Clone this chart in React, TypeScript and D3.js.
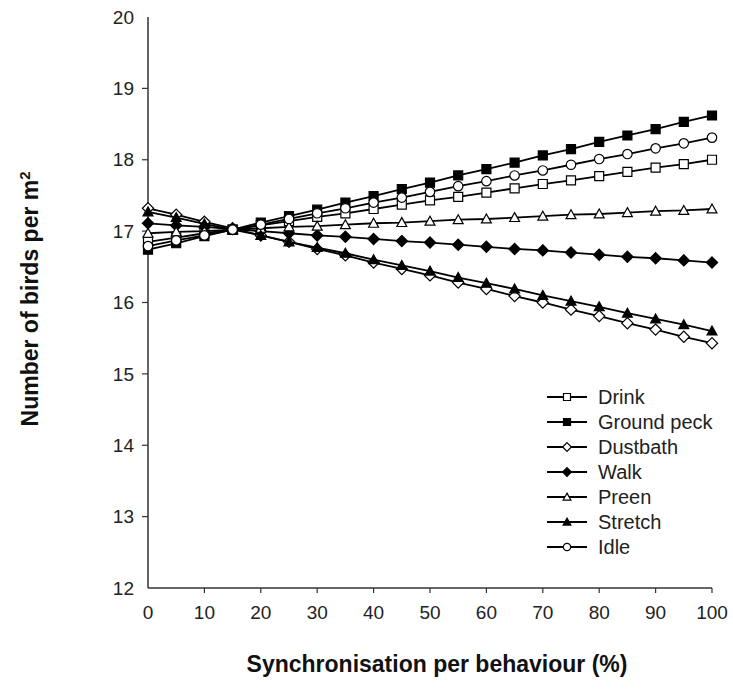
import React from "react";
import * as d3 from "d3";

// synchronisation levels (%)
const sync = [0, 5, 10, 15, 20, 25, 30, 35, 40, 45, 50, 55, 60, 65, 70, 75, 80, 85, 90, 95, 100];

const drink = [16.85, 16.91, 16.97, 17.02, 17.08, 17.14, 17.2, 17.25, 17.31, 17.37, 17.43, 17.48, 17.54, 17.6, 17.66, 17.71, 17.77, 17.83, 17.89, 17.94, 18.0];
const groundPeck = [16.74, 16.83, 16.93, 17.02, 17.12, 17.21, 17.3, 17.4, 17.49, 17.59, 17.68, 17.78, 17.87, 17.96, 18.06, 18.15, 18.25, 18.34, 18.43, 18.53, 18.62];
const dustbath = [17.32, 17.23, 17.13, 17.04, 16.94, 16.85, 16.75, 16.66, 16.56, 16.47, 16.38, 16.28, 16.19, 16.09, 16.0, 15.9, 15.81, 15.71, 15.62, 15.52, 15.43];
const walk = [17.11, 17.08, 17.06, 17.03, 17.0, 16.97, 16.94, 16.92, 16.89, 16.86, 16.84, 16.81, 16.78, 16.75, 16.73, 16.7, 16.67, 16.64, 16.62, 16.59, 16.56];
const preen = [16.97, 16.99, 17.0, 17.02, 17.04, 17.06, 17.07, 17.09, 17.11, 17.12, 17.14, 17.16, 17.17, 17.19, 17.21, 17.23, 17.24, 17.26, 17.28, 17.29, 17.31];
const stretch = [17.27, 17.19, 17.1, 17.02, 16.94, 16.85, 16.77, 16.69, 16.6, 16.52, 16.44, 16.35, 16.27, 16.19, 16.1, 16.02, 15.94, 15.85, 15.77, 15.69, 15.6];
const idle = [16.79, 16.87, 16.94, 17.02, 17.09, 17.17, 17.25, 17.32, 17.4, 17.47, 17.55, 17.63, 17.7, 17.78, 17.85, 17.93, 18.01, 18.08, 18.16, 18.23, 18.31];

const seriesNames = ["Drink", "Ground peck", "Dustbath", "Walk", "Preen", "Stretch", "Idle"];
const seriesValues = [drink, groundPeck, dustbath, walk, preen, stretch, idle];
// marker shape + filled?
const markerShapes = ["square", "square", "diamond", "diamond", "triangle", "triangle", "circle"];
const markerFilled = [false, true, false, true, false, true, false];

const xTicks = [0, 10, 20, 30, 40, 50, 60, 70, 80, 90, 100];
const yTicks = [12, 13, 14, 15, 16, 17, 18, 19, 20];

const W = 733;
const H = 690;
const margin = { left: 148, right: 21, top: 17, bottom: 102 };

// r = half width of the marker
const markerPath = (shape, r) => {
  if (shape === "square") return `M${-r},${-r}H${r}V${r}H${-r}Z`;
  if (shape === "diamond") {
    const d = r * 1.25;
    return `M0,${-d}L${d},0L0,${d}L${-d},0Z`;
  }
  if (shape === "triangle") {
    const h = r * 1.1;
    return `M0,${-h}L${r * 1.1},${h * 0.8}H${-r * 1.1}Z`;
  }
  return d3.symbol().type(d3.symbolCircle).size(Math.PI * r * r * 1.1)();
};

const Marker = ({ shape, filled, x, y, r }) => (
  <path
    d={markerPath(shape, r)}
    transform={`translate(${x},${y})`}
    fill={filled ? "#000" : "#fff"}
    stroke="#000"
    strokeWidth={1.2}
  />
);

export default function App() {
  const x = d3.scaleLinear().domain([0, 100]).range([margin.left, W - margin.right]);
  const y = d3.scaleLinear().domain([12, 20]).range([H - margin.bottom, margin.top]);

  const line = d3
    .line<number>()
    .x((_, i) => x(sync[i]))
    .y((d) => y(d));

  const font = "'Liberation Sans', Arial, sans-serif";
  const axisColor = "#333";
  const legendX = 547;
  const legendY = 397;
  const legendStep = 25;

  return (
    <svg
      width={W}
      height={H}
      style={{ position: "absolute", left: 0, top: 0, background: "#fff" }}
      fontFamily={font}
    >
      {/* axes */}
      <line x1={x(0)} x2={x(0)} y1={y(20)} y2={y(12)} stroke={axisColor} strokeWidth={1.5} />
      <line x1={x(0)} x2={x(100)} y1={y(12)} y2={y(12)} stroke={axisColor} strokeWidth={1.5} />
      {yTicks.map((t) => (
        <g key={"y" + t}>
          {t > 12 && t < 20 && (
            <line x1={x(0) - 6} x2={x(0)} y1={y(t)} y2={y(t)} stroke={axisColor} strokeWidth={1.2} />
          )}
          <text x={x(0) - 14} y={y(t)} dy="0.35em" textAnchor="end" fontSize={19} fill="#222">
            {t}
          </text>
        </g>
      ))}
      {xTicks.map((t) => (
        <g key={"x" + t}>
          {t > 0 && (
            <line x1={x(t)} x2={x(t)} y1={y(12)} y2={y(12) + 5} stroke={axisColor} strokeWidth={1.2} />
          )}
          <text x={x(t)} y={y(12) + 24} dy="0.35em" textAnchor="middle" fontSize={19} fill="#222">
            {t}
          </text>
        </g>
      ))}

      {/* axis titles */}
      <text
        x={437}
        y={664}
        dy="0.35em"
        textAnchor="middle"
        fontSize={23}
        fontWeight="bold"
        fill="#111"
      >
        Synchronisation per behaviour (%)
      </text>
      <text
        transform={`translate(30,${y(16.05)}) rotate(-90)`}
        textAnchor="middle"
        dy="0.35em"
        fontSize={23}
        fontWeight="bold"
        fill="#111"
      >
        Number of birds per m<tspan dy="-8" fontSize={15}>2</tspan>
      </text>

      {/* series */}
      {seriesValues.map((vals, si) => (
        <g key={seriesNames[si]}>
          <path d={line(vals)} fill="none" stroke="#000" strokeWidth={1.8} />
          {vals.map((v, i) => (
            <Marker
              key={i}
              shape={markerShapes[si]}
              filled={markerFilled[si]}
              x={x(sync[i])}
              y={y(v)}
              r={4.5}
            />
          ))}
        </g>
      ))}

      {/* legend */}
      {seriesNames.map((name, i) => (
        <g key={"lg" + name} transform={`translate(${legendX},${legendY + i * legendStep})`}>
          <line x1={0} x2={40} y1={0} y2={0} stroke="#000" strokeWidth={1.8} />
          <Marker shape={markerShapes[i]} filled={markerFilled[i]} x={20} y={0} r={3.5} />
          <text x={51} y={0} dy="0.35em" fontSize={20} fill="#222">
            {name}
          </text>
        </g>
      ))}
    </svg>
  );
}
